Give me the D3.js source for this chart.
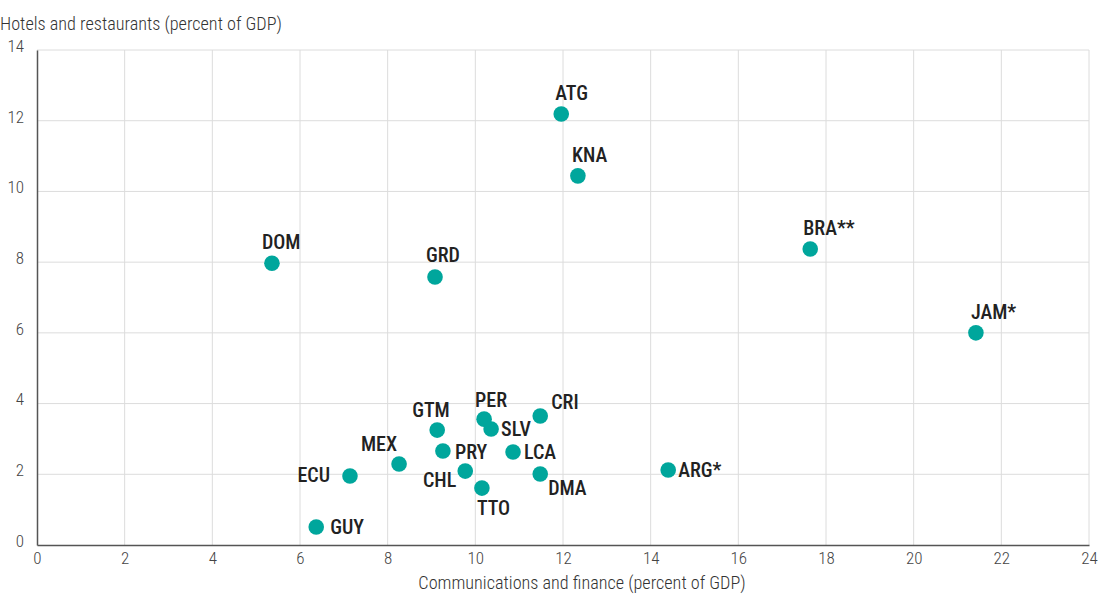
<!DOCTYPE html>
<html>
<head>
<meta charset="utf-8">
<script src="https://cdn.jsdelivr.net/npm/d3@7"></script>
<style>
  html, body { margin: 0; padding: 0; background: #fff; }
  svg { display: block; }
  .tick-label { font-family: "Roboto Condensed", "Liberation Sans Narrow", "Arial Narrow", sans-serif; font-size: 17px; font-weight: 300; fill: #444; }
  .axis-title { font-family: "Roboto Condensed", "Liberation Sans Narrow", "Arial Narrow", sans-serif; font-size: 18.2px; font-weight: 300; fill: #333; }
  .pt-label { font-family: "Roboto Condensed", "Liberation Sans Narrow", "Arial Narrow", sans-serif; font-size: 20px; font-weight: 500; fill: #222; }
</style>
</head>
<body>
<svg id="chart" width="1098" height="595"></svg>
<script>
// Country codes (asterisks as published)
const countries = ["ATG", "KNA", "DOM", "GRD", "BRA**", "JAM*", "CRI", "PER", "SLV", "GTM",
                   "PRY", "LCA", "MEX", "CHL", "ECU", "DMA", "TTO", "GUY", "ARG*"];
// Communications and finance, percent of GDP
const commFinance = [11.96, 12.34, 5.36, 9.08, 17.64, 21.42, 11.48, 10.20, 10.36, 9.13,
                     9.26, 10.86, 8.26, 9.77, 7.14, 11.48, 10.15, 6.37, 14.40];
// Hotels and restaurants, percent of GDP
const hotelsRestaurants = [12.19, 10.44, 7.97, 7.58, 8.37, 6.00, 3.65, 3.56, 3.28, 3.25,
                           2.66, 2.63, 2.29, 2.09, 1.95, 2.01, 1.61, 0.51, 2.12];

const xTicks = [0, 2, 4, 6, 8, 10, 12, 14, 16, 18, 20, 22, 24];
const yTicks = [0, 2, 4, 6, 8, 10, 12, 14];

const xTitle = "Communications and finance (percent of GDP)";
const yTitle = "Hotels and restaurants (percent of GDP)";

// Where each country's label sits relative to its dot: [anchor, dx, dy(baseline)]
const labelPlacement = {
  "ATG": ["start", -6, -14], "KNA": ["start", -6, -14], "DOM": ["start", -10, -14],
  "GRD": ["start", -9, -15], "BRA**": ["start", -7, -14], "JAM*": ["start", -5, -14],
  "CRI": ["start", 11, -7], "PER": ["start", -9, -12], "SLV": ["start", 10, 7],
  "GTM": ["start", -25, -13], "PRY": ["start", 12, 8], "LCA": ["start", 11, 7],
  "MEX": ["end", -2, -13], "CHL": ["end", -9, 16], "ECU": ["end", -20, 6],
  "DMA": ["start", 8, 21], "TTO": ["start", -5, 27], "GUY": ["start", 14, 7],
  "ARG*": ["start", 10, 7]
};

const svg = d3.select("#chart");
const x = d3.scaleLinear().domain([0, 24]).range([37, 1089]);
const y = d3.scaleLinear().domain([0, 14]).range([545, 50]);

// Gridlines
const grid = svg.append("g");
grid.selectAll("line.v").data(xTicks.filter(d => d > 0)).join("line")
  .attr("x1", d => x(d)).attr("x2", d => x(d))
  .attr("y1", y(14)).attr("y2", y(0))
  .attr("stroke", "#dcdcdc").attr("stroke-width", 1);
grid.selectAll("line.h").data(yTicks.filter(d => d > 0)).join("line")
  .attr("x1", x(0)).attr("x2", x(24))
  .attr("y1", d => y(d)).attr("y2", d => y(d))
  .attr("stroke", "#dcdcdc").attr("stroke-width", 1);

// Axes
const xAxis = d3.axisBottom(x).tickValues(xTicks).tickSize(0).tickPadding(7);
const yAxis = d3.axisLeft(y).tickValues(yTicks).tickSize(0).tickPadding(13);

const gx = svg.append("g").attr("transform", `translate(0,${y(0)})`).call(xAxis);
gx.select(".domain").attr("stroke", "#555").attr("stroke-width", 1.5);
gx.selectAll("text").attr("class", "tick-label").attr("fill", null).attr("dy", "0.72em");

const gy = svg.append("g").attr("transform", `translate(${x(0)},0)`).call(yAxis);
gy.select(".domain").attr("stroke", "#555").attr("stroke-width", 1.5);
gy.selectAll("text").attr("class", "tick-label").attr("fill", null).attr("dy", "0.08em");
gx.attr("font-family", null).attr("font-size", null);
gy.attr("font-family", null).attr("font-size", null);

// Axis titles
svg.append("text").attr("class", "axis-title")
  .attr("x", 0).attr("y", 30).text(yTitle);
svg.append("text").attr("class", "axis-title")
  .attr("x", 582).attr("y", 589).attr("text-anchor", "middle").text(xTitle);

// Points
const pts = countries.map((c, i) => ({ code: c, cx: commFinance[i], hr: hotelsRestaurants[i] }));

svg.append("g").selectAll("circle").data(pts).join("circle")
  .attr("cx", d => x(d.cx)).attr("cy", d => y(d.hr)).attr("r", 7.8)
  .attr("fill", "#00A69C");

svg.append("g").selectAll("text").data(pts).join("text")
  .attr("class", "pt-label")
  .attr("text-anchor", d => labelPlacement[d.code][0])
  .attr("x", d => x(d.cx) + labelPlacement[d.code][1])
  .attr("y", d => y(d.hr) + labelPlacement[d.code][2])
  .text(d => d.code);
</script>
</body>
</html>
